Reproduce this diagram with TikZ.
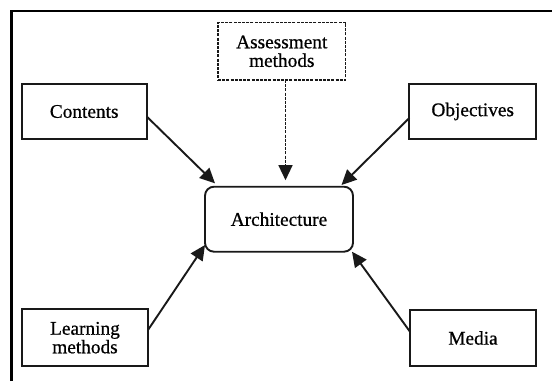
\documentclass[tikz,border=0pt]{standalone}
\usepackage{fontspec}
\setmainfont{Liberation Serif}
\newfontfamily\heavyserif{Liberation Serif}[FakeBold=0.7]
\usetikzlibrary{arrows.meta}
\begin{document}
\begin{tikzpicture}[x=1pt,y=-1pt,
  box/.style={draw=black!90,line width=1.9pt,inner sep=0pt,outer sep=0pt,align=center,
    font=\heavyserif\fontsize{19.3}{18.6}\selectfont},
  dashbox/.style={box,line width=1.6pt,dash pattern=on 3pt off 1.2pt},
  archbox/.style={box,rounded corners=9pt},
  conn/.style={line width=1.9pt,draw=black!90,-{Triangle[length=15pt,width=14pt]}},
  dconn/.style={conn,line width=1.3pt,dash pattern=on 3pt off 1.2pt}]
\useasboundingbox (0,0) rectangle (552,381);
\draw[line width=2.2pt] (11.5,381) -- (11.5,11) -- (552,11);
\node[box,minimum width=125pt,minimum height=55pt] (c) at (84.2,111.5) {Contents};
\node[box,minimum width=126.7pt,minimum height=55pt] (o) at (472.7,111.5) {Objectives};
\node[dashbox,minimum width=127.7pt,minimum height=57.3pt] (as) at (281.8,51.3) {Assessment\\methods};
\node[archbox,minimum width=148pt,minimum height=65pt] (a) at (279,219.2) {Architecture};
\node[box,minimum width=126pt,minimum height=56.7pt] (l) at (85,337.7) {Learning\\methods};
\node[box,minimum width=126pt,minimum height=56pt] (m) at (473,338) {Media};
\draw[conn] ([yshift=-5pt]c.east) -- ([xshift=10pt,yshift=3.4pt]a.north west);
\draw[conn] ([yshift=-6.5pt]o.west) -- ([xshift=-11.5pt,yshift=1.7pt]a.north east);
\draw[dconn] ([xshift=3.7pt]as.south) -- ([xshift=6.5pt,yshift=6.5pt]a.north);
\draw[conn] ([yshift=7.7pt]l.east) -- ([yshift=6.7pt]a.south west);
\draw[conn] ([yshift=6.3pt]m.west) -- ([xshift=-1pt]a.south east);
\end{tikzpicture}
\end{document}
